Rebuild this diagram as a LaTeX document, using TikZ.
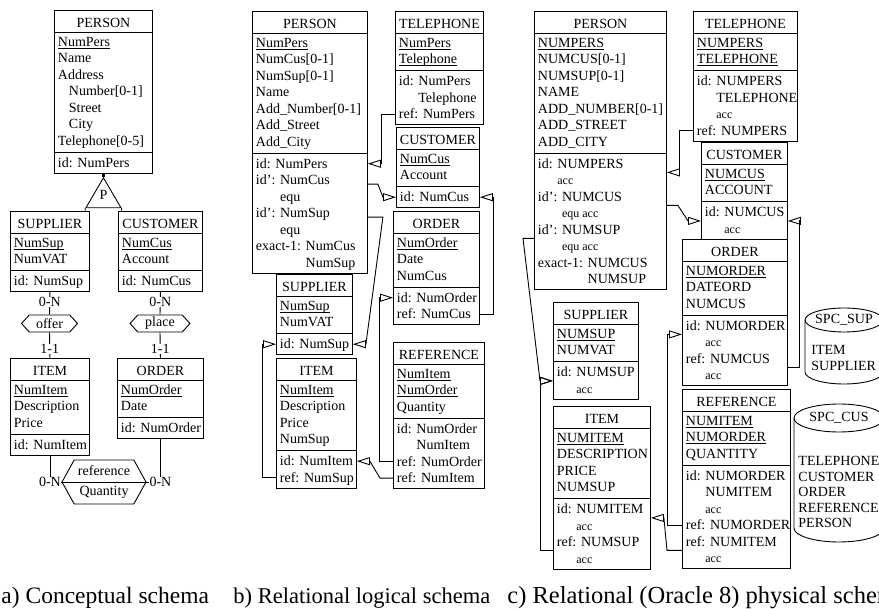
\documentclass[tikz,border=0pt]{standalone}
\usepackage{fontspec}
\setmainfont{Liberation Serif}
\usetikzlibrary{arrows.meta,positioning,calc,fit,shapes.geometric,shapes.symbols}

\newcommand\sm{\fontsize{12}{13}\selectfont}
\newcommand\key[1]{\underline{\smash{#1}}}
% name, left, top, width, header, attributes, constraints
\newcommand\dbtable[7]{%
  \pgfmathsetmacro\tw{#4-7}%
  \node[hd, minimum width=#4] (#1-h) at (#2,#3) {#5};
  \foreach \n [count=\i] in {#6} {%
    \node[row] (#1-a\i) at (#2, #3+23.25+16.5*\i-16.5) {\makebox[\tw pt][l]{\n}};
    \xdef\nA{\i}}
  \foreach \n [count=\i] in {#7} {%
    \node[row] (#1-c\i) at (#2, #3+28.5+16.5*\nA+16.5*\i-16.5) {\makebox[\tw pt][l]{\n}};
    \xdef\nC{\i}}
  \coordinate (#1-se) at ([yshift=-1.75pt]#1-c\nC.south east);
  \node[frame, fit=(#1-h)(#1-se)] (#1) {};
  \draw (#1-h.south west) -- (#1-h.south east);
  \draw ([yshift=1.75pt]#1-c1.north west) -- ([yshift=1.75pt]#1-c1.north east);
}

\begin{document}
\begin{tikzpicture}[
    x=1pt, y=-1pt, line width=0.9pt,
    font=\fontsize{14}{16.5}\selectfont,
    hd/.style={anchor=north west, minimum height=21.5pt, inner sep=0pt, text height=13pt, text depth=0pt},
    row/.style={anchor=north west, minimum height=16.5pt, inner xsep=3.5pt, inner ysep=0pt,
                text height=12pt, text depth=3pt},
    frame/.style={draw, inner sep=0pt},
    fk/.style={-{Triangle[open, length=13pt, width=8pt]}},
    isa/.style={isosceles triangle, isosceles triangle stretches, shape border rotate=90, draw,
                minimum width=35pt, minimum height=30pt, inner sep=0pt},
    rel/.style={signal, signal to=west and east, draw, inner sep=0pt, minimum height=17pt,
                signal pointer angle=95},
    role/.style={fill=white, inner sep=0.5pt},
    captxt/.style={inner sep=0pt, anchor=base west},
    lst/.style={anchor=north west, align=left, inner sep=0pt, font=\fontsize{14}{15.5}\selectfont}
]
\useasboundingbox (0,0) rectangle (879,609);

% a) conceptual schema
\dbtable{persa}{54}{10}{98}{PERSON}
  {\key{NumPers}, Name, Address, \hspace*{11pt}Number[0-1], \hspace*{11pt}Street, \hspace*{11pt}City, Telephone[0-5]}
  {id: NumPers}
\dbtable{supa}{10}{211}{79}{SUPPLIER}{\key{NumSup}, NumVAT}{id: NumSup}
\dbtable{custa}{118}{211}{84}{CUSTOMER}{\key{NumCus}, Account}{id: NumCus}
\dbtable{itema}{10}{358}{79}{ITEM}{\key{NumItem}, Description, Price}{id: NumItem}
\dbtable{orda}{117}{358}{86}{ORDER}{\key{NumOrder}, Date}{id: NumOrder}

\node[isa, anchor=apex] (isa) at ([yshift=-3pt]persa.south) {};
\draw[line width=2.5pt] (persa.south) -- (isa.apex);
\node (isa-p) at ([yshift=13pt]isa.lower side) {P};
\draw (isa.left corner) -- ([xshift=-5pt]supa.north east);
\draw (isa.right corner) -- ([xshift=4pt]custa.north west);

\node[rel, minimum width=56pt] (offer) at (49.5,323.5) {offer};
\node[rel, minimum width=60pt] (place) at (160,323.5) {place};
\node[rel, minimum width=84pt, minimum height=44pt, signal pointer angle=122, align=center,
      font=\fontsize{14}{20}\selectfont] (ref) at (104,482) {reference\\Quantity};
\draw (ref.west) -- (ref.east);

\draw (supa.south) -- node[role, pos=0.43] (r1) {0-N} (offer.north);
\draw (offer.south) -- node[role, pos=0.65] (r2) {1-1} (itema.north);
\draw (custa.south) -- node[role, pos=0.43] (r3) {0-N} (place.north);
\draw (place.south) -- node[role, pos=0.65] (r4) {1-1} (orda.north);
\draw (itema.south) |- node[role] (r5) {0-N} (ref.west);
\draw (orda.south) |- node[role] (r6) {0-N} (ref.east);

% b) relational logical schema
\dbtable{persb}{252}{11}{115}{PERSON}
  {\key{NumPers}, NumCus[0-1], NumSup[0-1], Name, Add\_Number[0-1], Add\_Street, Add\_City}
  {id: NumPers, id': NumCus, \phantom{id': }equ, id': NumSup, \phantom{id': }equ, exact-1: NumCus, \phantom{exact-1: }NumSup}
\dbtable{telb}{395}{11}{88}{TELEPHONE}{\key{NumPers}, \key{Telephone}}
  {id: NumPers, \phantom{id: }Telephone, ref: NumPers}
\dbtable{custb}{396}{127}{83}{CUSTOMER}{\key{NumCus}, Account}{id: NumCus}
\dbtable{ordb}{393}{211}{86}{ORDER}{\key{NumOrder}, Date, NumCus}{id: NumOrder, ref: NumCus}
\dbtable{supb}{276}{274}{76}{SUPPLIER}{\key{NumSup}, NumVAT}{id: NumSup}
\dbtable{itemb}{276}{358}{80}{ITEM}{\key{NumItem}, Description, Price, NumSup}{id: NumItem, ref: NumSup}
\dbtable{refb}{393}{342}{91}{REFERENCE}{\key{NumItem}, \key{NumOrder}, Quantity}
  {id: NumOrder, \phantom{id: }NumItem, ref: NumOrder, ref: NumItem}

\draw[fk] (telb-c3.west) -- ++(-14,0) |- (persb-c1.east);
\draw[fk] ([yshift=-4pt]persb-c2.east) -- ++(10,0) -- ([xshift=-13pt]custb-c1.west) -- (custb-c1.west);
\draw[fk] ([yshift=-4pt]persb-c4.east) -- ++(15,0) -- ([xshift=13pt]supb-c1.east) -- (supb-c1.east);
\draw[fk] (ordb-c2.east) -- ++(14,0) |- (custb-c1.east);
\draw[fk] (refb-c3.west) -- ++(-14,0) |- (ordb-c1.west);
\draw[fk] (refb-c4.west) -- ++(-13,0) -- ([xshift=13pt]itemb-c1.east) -- (itemb-c1.east);
\draw[fk] (itemb-c2.west) -- ++(-14,0) |- (supb-c1.west);

% c) physical schema
\dbtable{persc}{534}{11}{132}{PERSON}
  {\key{NUMPERS}, NUMCUS[0-1], NUMSUP[0-1], NAME, ADD\_NUMBER[0-1], ADD\_STREET, ADD\_CITY}
  {id: NUMPERS, \phantom{id: }{\sm acc}, id': NUMCUS, \phantom{id': }{\sm equ acc}, id': NUMSUP,
   \phantom{id': }{\sm equ acc}, exact-1: NUMCUS, \phantom{exact-1: }NUMSUP}
\dbtable{telc}{693}{11}{104}{TELEPHONE}{\key{NUMPERS}, \key{TELEPHONE}}
  {id: NUMPERS, \phantom{id: }TELEPHONE, \phantom{id: }{\sm acc}, ref: NUMPERS}
\dbtable{custc}{701}{142}{86}{CUSTOMER}{\key{NUMCUS}, ACCOUNT}{id: NUMCUS, \phantom{id: }{\sm acc}}
\dbtable{ordc}{682}{239}{105}{ORDER}{\key{NUMORDER}, DATEORD, NUMCUS}
  {id: NUMORDER, \phantom{id: }{\sm acc}, ref: NUMCUS, \phantom{id: }{\sm acc}}
\dbtable{supc}{553}{302}{85}{SUPPLIER}{\key{NUMSUP}, NUMVAT}{id: NUMSUP, \phantom{id: }{\sm acc}}
\dbtable{itemc}{553}{406}{97}{ITEM}{\key{NUMITEM}, DESCRIPTION, PRICE, NUMSUP}
  {id: NUMITEM, \phantom{id: }{\sm acc}, ref: NUMSUP, \phantom{id: }{\sm acc}}
\dbtable{refc}{682}{389}{108}{REFERENCE}{\key{NUMITEM}, \key{NUMORDER}, QUANTITY}
  {id: NUMORDER, \phantom{id: }NUMITEM, \phantom{id: }{\sm acc}, ref: NUMORDER, ref: NUMITEM, \phantom{id: }{\sm acc}}

\draw[fk] (telc-c4.west) -- ++(-14,0) |- (persc-c1.south east);
\draw[fk] (persc-c3.south east) -- ++(11,0) -- ([xshift=-13pt]custc-c1.south west) -- (custc-c1.south west);
\draw[fk] (persc-c5.south west) -- ++(-11,0) -- ([xshift=-13pt]supc-c1.south west) -- (supc-c1.south west);
\draw[fk] (ordc-c3.south east) -- ++(12,0) |- (custc-c1.south east);
\draw[fk] (refc-c4.west) -- ++(-15,0) |- (ordc-c1.south west);
\draw[fk] (refc-c5.south west) -- ++(-15,0) -- ([xshift=13pt]itemc-c1.south east) -- (itemc-c1.south east);
\draw[fk] (itemc-c3.south west) -- ++(-13,0) |- (supc-c1.south west);

% storage spaces
\draw (844,320) ellipse [x radius=39, y radius=12];
\draw (805,320) -- (805,372) arc[start angle=180, end angle=0, x radius=39, y radius=12] -- (883,320);
\node (spcsup) at (844,320) {SPC\_SUP};
\node[lst] (spcsup-l) at (811,345) {ITEM\\SUPPLIER};

\draw (839,418) ellipse [x radius=45, y radius=14];
\draw (794,418) -- (794,528) arc[start angle=180, end angle=0, x radius=45, y radius=14] -- (884,418);
\node (spccus) at (839,418) {SPC\_CUS};
\node[lst] (spccus-l) at (798,456) {TELEPHONE\\CUSTOMER\\ORDER\\REFERENCE\\PERSON};

% captions
\node[captxt, font=\fontsize{23.5}{26}\selectfont] (capa) at (1,604) {a) Conceptual schema};
\node[captxt, font=\fontsize{22.5}{26}\selectfont] (capb) at (233,604) {b) Relational logical schema};
\node[captxt, font=\fontsize{24.5}{26}\selectfont] (capc) at (507,604) {c) Relational (Oracle 8) physical schema};
\end{tikzpicture}
\end{document}
